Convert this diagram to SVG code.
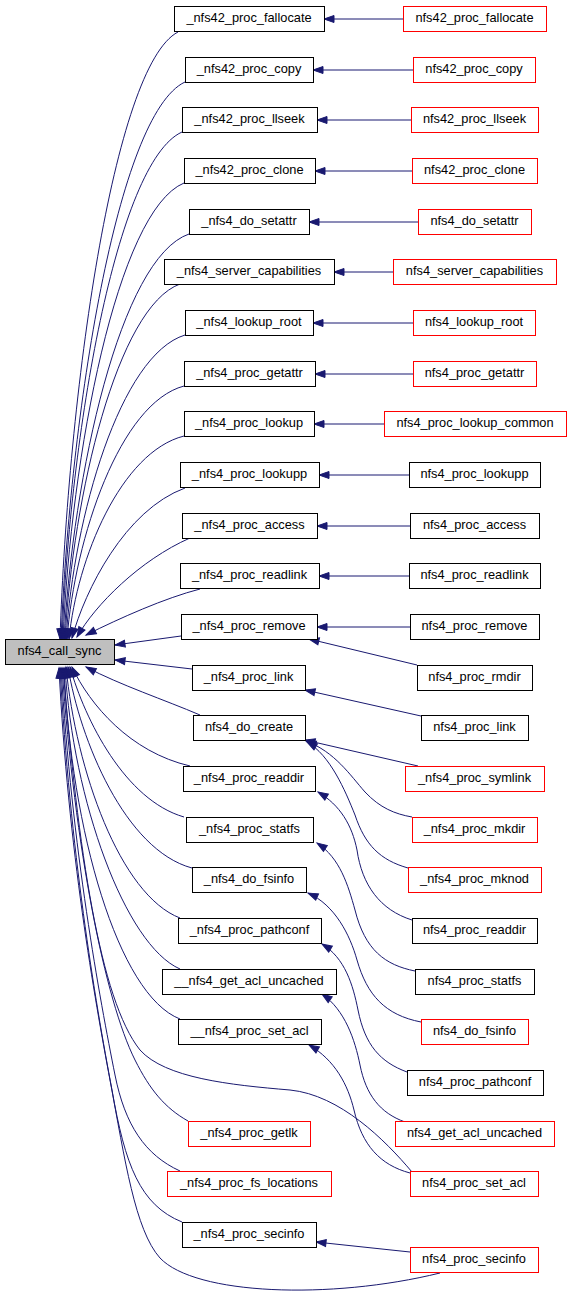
<svg xmlns="http://www.w3.org/2000/svg" width="571" height="1305" viewBox="0 0 571 1305">
<style>
.n rect{fill:#fff;stroke:#000;stroke-width:1}
.r rect{fill:#fff;stroke:#ff0000;stroke-width:1}
.g rect{fill:#bfbfbf;stroke:#000;stroke-width:1}
text{font-family:"Liberation Sans",Arial,sans-serif;font-size:12.8px;text-anchor:middle;fill:#000}
#edges path{fill:none;stroke:#191970;stroke-width:1;marker-start:url(#a)}
</style>
<defs>
<marker id="a" markerUnits="userSpaceOnUse" markerWidth="10" markerHeight="7" viewBox="0 0 10 7" refX="10" refY="3.5" orient="auto-start-reverse" overflow="visible">
<path d="M0,0L10,3.5L0,7z" fill="#191970" stroke="#191970" stroke-width="1"/>
</marker>
</defs>
<rect width="571" height="1305" fill="#fff"/>
<g id="edges">
<path d="M324,19L403,19"/>
<path d="M313,70L413,70"/>
<path d="M317,120L411,120"/>
<path d="M315,171L412,171"/>
<path d="M309,222L418,222"/>
<path d="M334,272L393,272"/>
<path d="M313,323L413,323"/>
<path d="M315,374L413,374"/>
<path d="M314,424L384,424"/>
<path d="M319,475L409,475"/>
<path d="M317,526L410,526"/>
<path d="M319,576L409,576"/>
<path d="M317,627L410,627"/>
<path d="M60,639C68,395 113,66 178,32"/>
<path d="M61,639C70,415 117,114 185,82"/>
<path d="M62,639C70,436 116,162 182,132"/>
<path d="M63,639C71,456 117,211 184,183"/>
<path d="M64,639C73,476 120,258 189,234"/>
<path d="M65,639C73,496 117,307 180,284"/>
<path d="M66,639C74,517 120,355 185,335"/>
<path d="M67,639C75,537 120,403 184,386"/>
<path d="M69,639C77,558 121,452 184,436"/>
<path d="M72,638C85,590 125,510 185,488"/>
<path d="M77,637C95,605 140,560 190,538"/>
<path d="M86,635C120,618 165,598 200,589"/>
<path d="M115,645L181,636"/>
<path d="M115,660L192,669"/>
<path d="M86,667C120,685 165,700 200,715"/>
<path d="M72,667C90,705 130,752 190,766"/>
<path d="M70,667C85,720 125,800 184,817"/>
<path d="M68,667C80,740 125,850 192,868"/>
<path d="M66,667C76,770 120,895 180,918"/>
<path d="M65,668C73,800 125,945 180,969"/>
<path d="M64,668C71,830 118,995 180,1019"/>
<path d="M63,668C78,850 100,1000 140,1050C165,1078 230,1085 290,1090C340,1095 385,1140 412,1172"/>
<path d="M62,668C75,850 105,1000 135,1060C150,1090 165,1108 188,1121"/>
<path d="M61,668C72,850 100,1000 115,1075C125,1125 145,1155 180,1171"/>
<path d="M60,668C70,850 95,1000 112,1090C125,1165 140,1205 182,1222"/>
<path d="M59,668C68,850 95,1000 110,1080C125,1160 135,1230 160,1258C195,1295 330,1300 440,1273"/>
<path d="M309,639L417,665"/>
<path d="M305,690L421,716"/>
<path d="M305,740L418,766"/>
<path d="M306,741C335,752 350,775 365,792C380,808 395,814 412,817"/>
<path d="M307,742C330,755 345,790 355,815C365,845 380,860 408,868"/>
<path d="M318,792C340,805 352,825 357,850C362,885 380,910 412,920"/>
<path d="M317,843C340,858 348,885 355,910C365,950 385,965 415,971"/>
<path d="M308,893C335,905 350,935 357,960C367,995 385,1015 421,1022"/>
<path d="M322,944C345,958 353,985 358,1010C365,1045 380,1062 407,1072"/>
<path d="M322,994C345,1010 355,1040 360,1065C366,1095 380,1113 405,1122"/>
<path d="M309,1045C335,1060 348,1085 354,1110C362,1145 380,1165 410,1173"/>
<path d="M316,1242L410,1252"/>
</g>
<g id="nfs4_call_sync" class="g"><rect x="5.5" y="639.5" width="109" height="25"/><text x="59.5" y="655">nfs4_call_sync</text></g>
<g id="m0" class="n"><rect x="174.5" y="6.5" width="150" height="25"/><text x="249" y="22">_nfs42_proc_fallocate</text></g>
<g id="m1" class="n"><rect x="185.5" y="57.5" width="128" height="25"/><text x="249" y="73">_nfs42_proc_copy</text></g>
<g id="m2" class="n"><rect x="182.5" y="107.5" width="135" height="25"/><text x="249.5" y="123">_nfs42_proc_llseek</text></g>
<g id="m3" class="n"><rect x="184.5" y="158.5" width="131" height="25"/><text x="249.5" y="174">_nfs42_proc_clone</text></g>
<g id="m4" class="n"><rect x="189.5" y="209.5" width="120" height="25"/><text x="249" y="225">_nfs4_do_setattr</text></g>
<g id="m5" class="n"><rect x="164.5" y="259.5" width="170" height="25"/><text x="249" y="275">_nfs4_server_capabilities</text></g>
<g id="m6" class="n"><rect x="185.5" y="310.5" width="128" height="25"/><text x="249" y="326">_nfs4_lookup_root</text></g>
<g id="m7" class="n"><rect x="184.5" y="361.5" width="131" height="25"/><text x="249.5" y="377">_nfs4_proc_getattr</text></g>
<g id="m8" class="n"><rect x="184.5" y="411.5" width="130" height="25"/><text x="249" y="427">_nfs4_proc_lookup</text></g>
<g id="m9" class="n"><rect x="180.5" y="462.5" width="139" height="25"/><text x="249.5" y="478">_nfs4_proc_lookupp</text></g>
<g id="m10" class="n"><rect x="182.5" y="513.5" width="135" height="25"/><text x="249.5" y="529">_nfs4_proc_access</text></g>
<g id="m11" class="n"><rect x="180.5" y="563.5" width="139" height="25"/><text x="249.5" y="579">_nfs4_proc_readlink</text></g>
<g id="m12" class="n"><rect x="181.5" y="614.5" width="136" height="25"/><text x="249" y="630">_nfs4_proc_remove</text></g>
<g id="m13" class="n"><rect x="192.5" y="665.5" width="113" height="25"/><text x="248.5" y="681">_nfs4_proc_link</text></g>
<g id="m14" class="n"><rect x="193.5" y="715.5" width="112" height="25"/><text x="249" y="731">nfs4_do_create</text></g>
<g id="m15" class="n"><rect x="183.5" y="766.5" width="132" height="25"/><text x="249" y="782">_nfs4_proc_readdir</text></g>
<g id="m16" class="n"><rect x="186.5" y="817.5" width="127" height="25"/><text x="249.5" y="833">_nfs4_proc_statfs</text></g>
<g id="m17" class="n"><rect x="192.5" y="867.5" width="114" height="25"/><text x="249" y="883">_nfs4_do_fsinfo</text></g>
<g id="m18" class="n"><rect x="178.5" y="918.5" width="143" height="25"/><text x="249.5" y="934">_nfs4_proc_pathconf</text></g>
<g id="m19" class="n"><rect x="162.5" y="969.5" width="174" height="25"/><text x="249" y="985">__nfs4_get_acl_uncached</text></g>
<g id="m20" class="n"><rect x="178.5" y="1019.5" width="143" height="25"/><text x="249.5" y="1035">__nfs4_proc_set_acl</text></g>
<g id="m22" class="r"><rect x="188.5" y="1121.5" width="122" height="25"/><text x="249" y="1137">_nfs4_proc_getlk</text></g>
<g id="m23" class="r"><rect x="167.5" y="1171.5" width="164" height="25"/><text x="249" y="1187">_nfs4_proc_fs_locations</text></g>
<g id="m24" class="n"><rect x="182.5" y="1222.5" width="134" height="25"/><text x="249" y="1238">_nfs4_proc_secinfo</text></g>
<g id="r0" class="r"><rect x="403.5" y="6.5" width="143" height="25"/><text x="474.5" y="22">nfs42_proc_fallocate</text></g>
<g id="r1" class="r"><rect x="413.5" y="57.5" width="122" height="25"/><text x="474" y="73">nfs42_proc_copy</text></g>
<g id="r2" class="r"><rect x="411.5" y="107.5" width="127" height="25"/><text x="474.5" y="123">nfs42_proc_llseek</text></g>
<g id="r3" class="r"><rect x="412.5" y="158.5" width="125" height="25"/><text x="474.5" y="174">nfs42_proc_clone</text></g>
<g id="r4" class="r"><rect x="418.5" y="209.5" width="113" height="25"/><text x="474.5" y="225">nfs4_do_setattr</text></g>
<g id="r5" class="r"><rect x="393.5" y="259.5" width="163" height="25"/><text x="474.5" y="275">nfs4_server_capabilities</text></g>
<g id="r6" class="r"><rect x="413.5" y="310.5" width="122" height="25"/><text x="474" y="326">nfs4_lookup_root</text></g>
<g id="r7" class="r"><rect x="413.5" y="361.5" width="123" height="25"/><text x="474.5" y="377">nfs4_proc_getattr</text></g>
<g id="r8" class="r"><rect x="384.5" y="411.5" width="182" height="25"/><text x="475" y="427">nfs4_proc_lookup_common</text></g>
<g id="r9" class="n"><rect x="409.5" y="462.5" width="131" height="25"/><text x="474.5" y="478">nfs4_proc_lookupp</text></g>
<g id="r10" class="n"><rect x="410.5" y="513.5" width="129" height="25"/><text x="474.5" y="529">nfs4_proc_access</text></g>
<g id="r11" class="n"><rect x="409.5" y="563.5" width="131" height="25"/><text x="474.5" y="579">nfs4_proc_readlink</text></g>
<g id="r12" class="n"><rect x="410.5" y="614.5" width="129" height="25"/><text x="474.5" y="630">nfs4_proc_remove</text></g>
<g id="r13" class="n"><rect x="417.5" y="665.5" width="115" height="25"/><text x="474.5" y="681">nfs4_proc_rmdir</text></g>
<g id="r14" class="n"><rect x="421.5" y="715.5" width="107" height="25"/><text x="474.5" y="731">nfs4_proc_link</text></g>
<g id="r15" class="r"><rect x="405.5" y="766.5" width="139" height="25"/><text x="474.5" y="782">_nfs4_proc_symlink</text></g>
<g id="r16" class="r"><rect x="412.5" y="817.5" width="125" height="25"/><text x="474.5" y="833">_nfs4_proc_mkdir</text></g>
<g id="r17" class="r"><rect x="408.5" y="867.5" width="133" height="25"/><text x="474.5" y="883">_nfs4_proc_mknod</text></g>
<g id="r18" class="n"><rect x="412.5" y="918.5" width="125" height="25"/><text x="474.5" y="934">nfs4_proc_readdir</text></g>
<g id="r19" class="n"><rect x="415.5" y="969.5" width="119" height="25"/><text x="474.5" y="985">nfs4_proc_statfs</text></g>
<g id="r20" class="r"><rect x="421.5" y="1019.5" width="107" height="25"/><text x="474.5" y="1035">nfs4_do_fsinfo</text></g>
<g id="r21" class="n"><rect x="407.5" y="1070.5" width="136" height="25"/><text x="475" y="1086">nfs4_proc_pathconf</text></g>
<g id="r22" class="r"><rect x="395.5" y="1121.5" width="159" height="25"/><text x="474.5" y="1137">nfs4_get_acl_uncached</text></g>
<g id="r23" class="r"><rect x="410.5" y="1171.5" width="128" height="25"/><text x="474" y="1187">nfs4_proc_set_acl</text></g>
<g id="r24" class="r"><rect x="410.5" y="1247.5" width="128" height="25"/><text x="474" y="1263">nfs4_proc_secinfo</text></g>
</svg>
